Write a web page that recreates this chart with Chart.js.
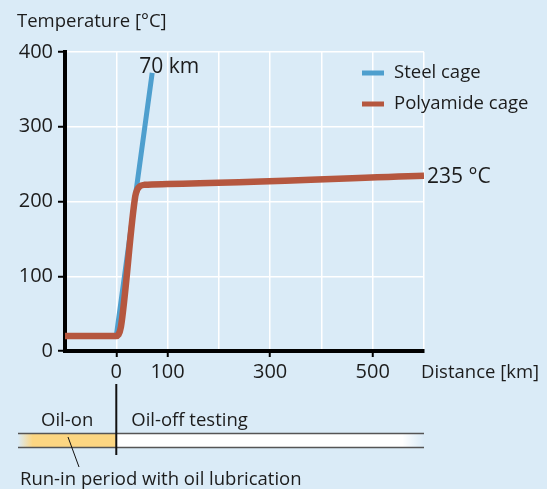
<!DOCTYPE html>
<html>
<head>
<meta charset="utf-8">
<script src="https://cdn.jsdelivr.net/npm/chart.js@4/dist/chart.umd.min.js"></script>
<style>
html,body{margin:0;padding:0;background:#DAEBF7;}
#wrap{width:547px;height:489px;}
</style>
</head>
<body>
<div id="wrap"><canvas id="c" width="547" height="489"></canvas></div>
<script>
// ---- data ----
const steelKm   = [-100, 0, 70];
const steelTemp = [20, 20, 372];
const polyKm    = [-100, 0, 4, 9, 37, 41, 46, 55, 100, 600];
const polyTemp  = [20, 20, 21.5, 32, 207, 216, 220.5, 222.3, 223.3, 234.3];
const yTickValues = [0, 100, 200, 300, 400];
const xTickLabels = [0, 100, 300, 500];
const seriesNames = ['Steel cage', 'Polyamide cage'];
const annotSteel = '70 km';
const annotPoly = '235 °C';
const yTitle = 'Temperature [°C]';
const xTitle = 'Distance [km]';
const bandLeftText = 'Oil-on';
const bandRightText = 'Oil-off testing';
const bandNote = 'Run-in period with oil lubrication';

const FONT = '"Open Sans", "DejaVu Sans", sans-serif';
const BLUE = '#4E9FCE';
const RED = '#B5573F';
const TXT = '#1c1c1c';
const SMALL = '18.5px ';

const toPts = (xs, ys) => xs.map((x, i) => ({x, y: ys[i]}));

const extras = {
  id: 'extras',
  beforeDraw(chart) {
    const ctx = chart.ctx;
    ctx.save();
    ctx.fillStyle = '#DAEBF7';
    ctx.fillRect(0, 0, chart.width, chart.height);
    ctx.restore();
  },
  afterDraw(chart) {
    const ctx = chart.ctx;
    const xs = chart.scales.x, ys = chart.scales.y;
    const ca = chart.chartArea;
    ctx.save();
    ctx.fillStyle = TXT;
    ctx.textBaseline = 'alphabetic';
    // axis titles
    ctx.font = SMALL + FONT;
    ctx.textAlign = 'left';
    ctx.fillText(yTitle, 17, 27);
    ctx.fillText(xTitle, ca.right - 3, 378);
    // annotations
    ctx.font = '21px ' + FONT;
    const sl = steelKm.length - 1;
    const sx = xs.getPixelForValue(steelKm[sl]), sy = ys.getPixelForValue(steelTemp[sl]);
    ctx.textAlign = 'center';
    ctx.fillText(annotSteel, sx + 17, sy);
    const pl = polyKm.length - 1;
    const px = xs.getPixelForValue(polyKm[pl]), py = ys.getPixelForValue(polyTemp[pl]);
    ctx.textAlign = 'left';
    ctx.textBaseline = 'middle';
    ctx.fillText(annotPoly, px + 3, py + 1);
    // legend
    const legColors = [BLUE, RED];
    ctx.font = SMALL + FONT;
    seriesNames.forEach((n, i) => {
      const y = 73 + i * 31;
      ctx.strokeStyle = legColors[i];
      ctx.lineWidth = 5;
      ctx.beginPath();
      ctx.moveTo(362, y); ctx.lineTo(384, y);
      ctx.stroke();
      ctx.fillStyle = TXT;
      ctx.fillText(n, 394, y);
    });
    // bottom band
    const x0 = xs.getPixelForValue(0);
    const bl = ca.left - 47, br = ca.right;
    const top = 433.5, bot = 447.5;
    let g = ctx.createLinearGradient(bl, 0, x0, 0);
    g.addColorStop(0, 'rgba(252,214,130,0)');
    g.addColorStop(0.15, 'rgba(252,214,130,1)');
    g.addColorStop(1, 'rgba(252,214,130,1)');
    ctx.fillStyle = g;
    ctx.fillRect(bl, top, x0 - bl, bot - top);
    g = ctx.createLinearGradient(x0, 0, br, 0);
    g.addColorStop(0, 'rgba(255,255,255,1)');
    g.addColorStop(0.93, 'rgba(255,255,255,1)');
    g.addColorStop(1, 'rgba(255,255,255,0)');
    ctx.fillStyle = g;
    ctx.fillRect(x0, top, br - x0, bot - top);
    ctx.strokeStyle = '#555';
    ctx.lineWidth = 1.5;
    ctx.beginPath();
    ctx.moveTo(bl, top); ctx.lineTo(br, top);
    ctx.moveTo(bl, bot); ctx.lineTo(br, bot);
    ctx.stroke();
    // vertical line at 0
    ctx.strokeStyle = '#111';
    ctx.lineWidth = 2;
    ctx.beginPath();
    ctx.moveTo(x0, 384); ctx.lineTo(x0, 455);
    ctx.stroke();
    // pointer
    ctx.lineWidth = 1;
    ctx.beginPath();
    ctx.moveTo(68, 437); ctx.lineTo(79, 467);
    ctx.stroke();
    // band texts
    ctx.fillStyle = TXT;
    ctx.textBaseline = 'alphabetic';
    ctx.font = SMALL + FONT;
    ctx.textAlign = 'center';
    ctx.fillText(bandLeftText, (bl + x0) / 2, 426);
    ctx.textAlign = 'left';
    ctx.fillText(bandRightText, x0 + 15, 426);
    ctx.fillText(bandNote, 20, 485);
    ctx.restore();
  }
};

new Chart(document.getElementById('c'), {
  type: 'line',
  data: {
    datasets: [
      {label: seriesNames[0], data: toPts(steelKm, steelTemp), borderColor: BLUE, borderWidth: 5,
       pointRadius: 0, tension: 0, order: 2, borderJoinStyle: 'round', borderCapStyle: 'butt'},
      {label: seriesNames[1], data: toPts(polyKm, polyTemp), borderColor: RED, borderWidth: 6.5,
       pointRadius: 0, cubicInterpolationMode: 'monotone', order: 1, borderJoinStyle: 'round'}
    ]
  },
  options: {
    responsive: false,
    animation: false,
    devicePixelRatio: 1,
    layout: {padding: {top: 52, right: 123, left: 0, bottom: 0}},
    plugins: {legend: {display: false}, tooltip: {enabled: false}, title: {display: false}},
    scales: {
      x: {
        type: 'linear', min: -100, max: 600,
        afterFit(s) { s.height = 138; },
        border: {display: true, color: '#000', width: 4},
        grid: {
          color: c => (c.tick && c.tick.value === -100) ? 'rgba(0,0,0,0)' : '#FFFFFF',
          lineWidth: 1.5,
          drawTicks: true, tickLength: 6, tickWidth: 2,
          tickColor: c => (c.tick && xTickLabels.includes(c.tick.value)) ? '#000' : 'rgba(0,0,0,0)'
        },
        ticks: {
          stepSize: 100, autoSkip: false, maxRotation: 0, padding: 3,
          color: TXT, font: {family: FONT, size: 20},
          callback: v => xTickLabels.includes(v) ? String(v) : ''
        }
      },
      y: {
        type: 'linear', min: 0, max: 400,
        afterFit(s) { s.width = 65; },
        afterBuildTicks(s) { s.ticks = yTickValues.map(v => ({value: v})); },
        border: {display: true, color: '#000', width: 4},
        grid: {
          color: c => (c.tick && c.tick.value === 0) ? 'rgba(0,0,0,0)' : '#FFFFFF',
          lineWidth: 1.5, drawTicks: true, tickLength: 7, tickWidth: 2, tickColor: '#000'
        },
        ticks: {padding: 5, color: TXT, font: {family: FONT, size: 20}}
      }
    }
  },
  plugins: [extras]
});
</script>
</body>
</html>
